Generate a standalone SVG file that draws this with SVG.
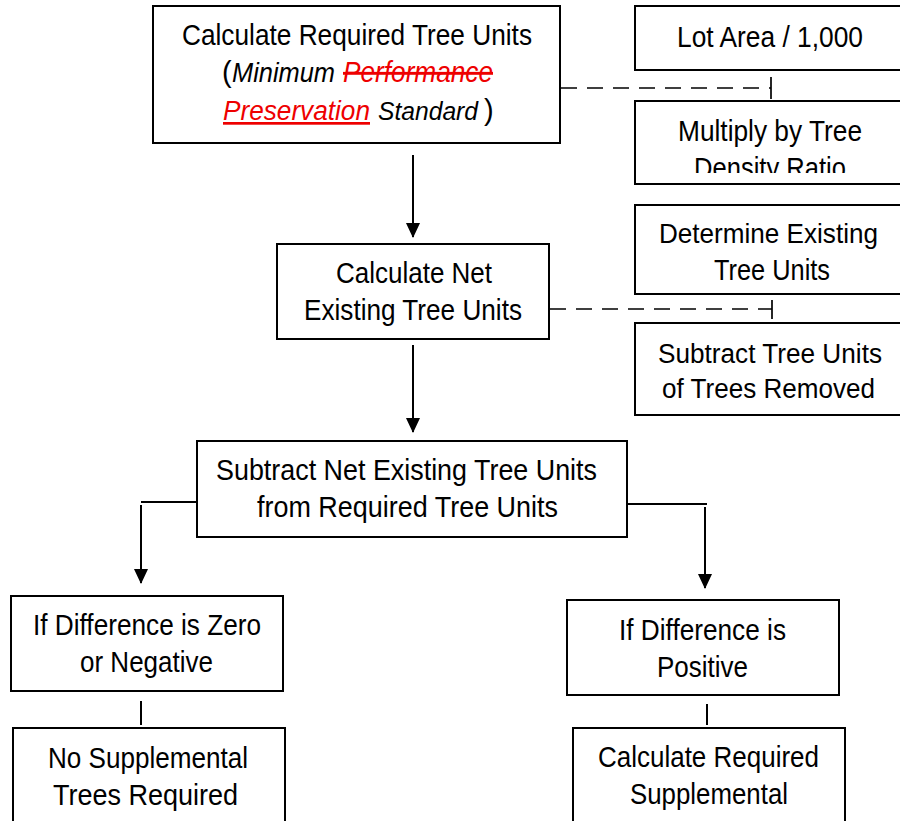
<svg xmlns="http://www.w3.org/2000/svg" width="900" height="821" viewBox="0 0 900 821">
<style>
.box{fill:#fff;stroke:#000;stroke-width:2}
.t{font-family:"Liberation Sans Narrow","Liberation Sans",Arial,sans-serif;font-size:29px;fill:#000}
.ln{stroke:#000;stroke-width:2;fill:none}
.dash{stroke:#000;stroke-width:1.7;fill:none;stroke-dasharray:16 10}
.it{font-style:italic}
.red{fill:#e00}
</style>
<defs>
<marker id="arr" markerUnits="userSpaceOnUse" markerWidth="16" markerHeight="16" viewBox="0 0 16 16" refX="14" refY="8" orient="auto">
<path d="M0,1 L15,8 L0,15 Z" fill="#000"/>
</marker>
<clipPath id="clipMul"><rect x="600" y="100" width="320" height="73"/></clipPath>
</defs>
<rect width="900" height="821" fill="#fff"/>

<g id="connectors">
<line class="ln" x1="413" y1="155" x2="413" y2="237" marker-end="url(#arr)"/>
<line class="ln" x1="413" y1="345" x2="413" y2="432" marker-end="url(#arr)"/>
<polyline class="ln" points="197,502 141,502"/>
<line class="ln" x1="141" y1="505" x2="141" y2="583" marker-end="url(#arr)"/>
<polyline class="ln" points="627,504 707,504"/>
<line class="ln" x1="705" y1="507" x2="705" y2="588" marker-end="url(#arr)"/>
<line class="ln" x1="141" y1="701" x2="141" y2="725"/>
<line class="ln" x1="707" y1="704" x2="707" y2="725"/>
<line class="dash" x1="561" y1="88" x2="771" y2="88"/>
<line class="ln" x1="771" y1="77" x2="771" y2="99" style="stroke-width:1.7"/>
<line class="dash" x1="550" y1="309" x2="772" y2="309"/>
<line class="ln" x1="772" y1="300" x2="772" y2="319" style="stroke-width:1.7"/>
</g>

<g id="n-required">
<rect class="box" x="153" y="6" width="407" height="137"/>
<text class="t" x="182" y="45" textLength="350" lengthAdjust="spacingAndGlyphs">Calculate Required Tree Units</text>
<text class="t" x="222" y="82">(</text>
<text class="t it" x="232" y="82" textLength="103" lengthAdjust="spacingAndGlyphs" style="font-size:27px">Minimum</text>
<text class="t it red" x="343" y="82" textLength="150" lengthAdjust="spacingAndGlyphs" text-decoration="line-through">Performance</text>
<text class="t it red" x="223" y="120" textLength="147" lengthAdjust="spacingAndGlyphs" text-decoration="underline" style="font-size:27px">Preservation</text>
<text class="t it" x="378" y="120" textLength="100" lengthAdjust="spacingAndGlyphs" style="font-size:26px">Standard</text>
<text class="t" x="484" y="120">)</text>
</g>

<g id="n-lotarea">
<rect class="box" x="635" y="6" width="280" height="64"/>
<text class="t" x="677" y="47" textLength="186" lengthAdjust="spacingAndGlyphs">Lot Area / 1,000</text>
</g>

<g id="n-multiply">
<rect class="box" x="635" y="101" width="280" height="83"/>
<g clip-path="url(#clipMul)">
<text class="t" x="678" y="141" textLength="184" lengthAdjust="spacingAndGlyphs">Multiply by Tree</text>
<text class="t" x="694" y="178" textLength="152" lengthAdjust="spacingAndGlyphs">Density Ratio</text>
</g>
</g>

<g id="n-netexisting">
<rect class="box" x="277" y="244" width="272" height="95"/>
<text class="t" x="336" y="283" textLength="156" lengthAdjust="spacingAndGlyphs">Calculate Net</text>
<text class="t" x="304" y="320" textLength="218" lengthAdjust="spacingAndGlyphs">Existing Tree Units</text>
</g>

<g id="n-determine">
<rect class="box" x="635" y="205" width="280" height="89"/>
<text class="t" x="659" y="243" textLength="219" lengthAdjust="spacingAndGlyphs" style="font-size:28px">Determine Existing</text>
<text class="t" x="714" y="280" textLength="116" lengthAdjust="spacingAndGlyphs">Tree Units</text>
</g>

<g id="n-subtractremoved">
<rect class="box" x="635" y="323" width="280" height="92"/>
<text class="t" x="658" y="363" textLength="224" lengthAdjust="spacingAndGlyphs" style="font-size:27px">Subtract Tree Units</text>
<text class="t" x="662" y="398" textLength="213" lengthAdjust="spacingAndGlyphs" style="font-size:28px">of Trees Removed</text>
</g>

<g id="n-subtractnet">
<rect class="box" x="197" y="441" width="430" height="96"/>
<text class="t" x="216" y="480" textLength="381" lengthAdjust="spacingAndGlyphs">Subtract Net Existing Tree Units</text>
<text class="t" x="257" y="517" textLength="301" lengthAdjust="spacingAndGlyphs">from Required Tree Units</text>
</g>

<g id="n-zero">
<rect class="box" x="11" y="596" width="272" height="95"/>
<text class="t" x="33" y="635" textLength="228" lengthAdjust="spacingAndGlyphs">If Difference is Zero</text>
<text class="t" x="80" y="672" textLength="133" lengthAdjust="spacingAndGlyphs">or Negative</text>
</g>

<g id="n-positive">
<rect class="box" x="567" y="600" width="272" height="95"/>
<text class="t" x="619" y="640" textLength="167" lengthAdjust="spacingAndGlyphs">If Difference is</text>
<text class="t" x="657" y="677" textLength="91" lengthAdjust="spacingAndGlyphs">Positive</text>
</g>

<g id="n-nosupp">
<rect class="box" x="13" y="728" width="272" height="110"/>
<text class="t" x="48" y="768" textLength="200" lengthAdjust="spacingAndGlyphs">No Supplemental</text>
<text class="t" x="53" y="805" textLength="185" lengthAdjust="spacingAndGlyphs">Trees Required</text>
</g>

<g id="n-calcsupp">
<rect class="box" x="573" y="728" width="272" height="110"/>
<text class="t" x="598" y="767" textLength="221" lengthAdjust="spacingAndGlyphs">Calculate Required</text>
<text class="t" x="630" y="804" textLength="158" lengthAdjust="spacingAndGlyphs">Supplemental</text>
</g>
</svg>
